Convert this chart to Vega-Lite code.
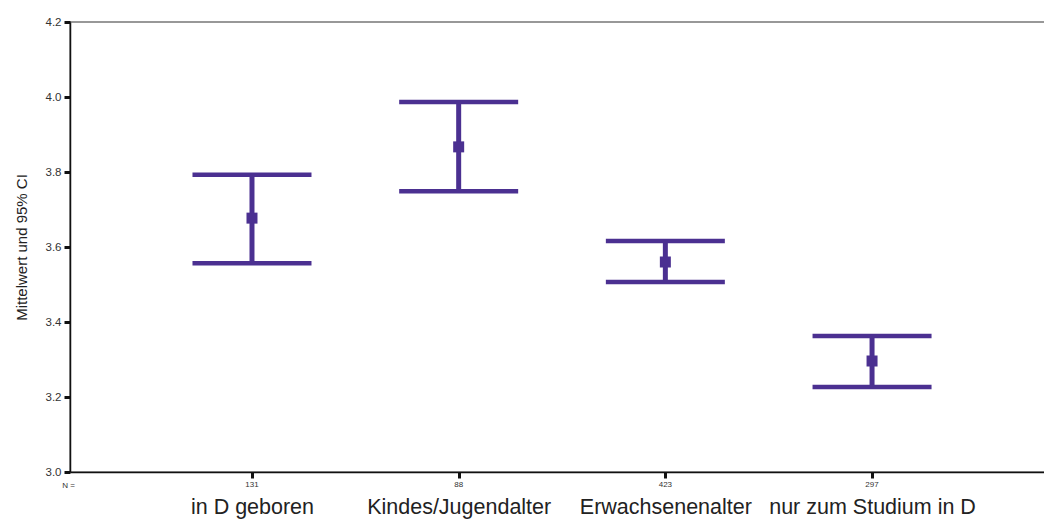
{
  "$schema": "https://vega.github.io/schema/vega-lite/v6.json",
  "autosize": {"type": "none"},
  "width": 980,
  "height": 450,
  "padding": {"left": 70, "top": 22, "right": 0, "bottom": 50},
  "background": "white",
  "config": {
    "font": "Liberation Sans",
    "view": {"stroke": "#777777", "strokeWidth": 1.5},
    "axis": {"grid": false}
  },
  "data": {
    "values": [
      {"pos": 1, "group": "in D geboren", "n": "131", "mean": 3.677, "lo": 3.557, "hi": 3.793},
      {"pos": 2, "group": "Kindes/Jugendalter", "n": "88", "mean": 3.867, "lo": 3.749, "hi": 3.987},
      {"pos": 3, "group": "Erwachsenenalter", "n": "423", "mean": 3.560, "lo": 3.507, "hi": 3.616},
      {"pos": 4, "group": "nur zum Studium in D", "n": "297", "mean": 3.296, "lo": 3.227, "hi": 3.363}
    ]
  },
  "encoding": {
    "x": {
      "field": "pos",
      "type": "quantitative",
      "scale": {"domain": [0.1195, 4.861], "nice": false, "zero": false},
      "axis": {
        "values": [1, 2, 3, 4],
        "labelExpr": "datum.value == 1 ? 'in D geboren' : datum.value == 2 ? 'Kindes/Jugendalter' : datum.value == 3 ? 'Erwachsenenalter' : 'nur zum Studium in D'",
        "labelFontSize": 21.5,
        "labelColor": "#222222",
        "labelBaseline": "top",
        "labelPadding": 18,
        "labelOverlap": false,
        "labelFlush": false,
        "labelLimit": 0,
        "tickSize": 6,
        "tickWidth": 3,
        "tickColor": "#111111",
        "domainColor": "#111111",
        "domainWidth": 1.5,
        "title": "N =",
        "titleFontSize": 8,
        "titleFontWeight": "normal",
        "titleColor": "#333333",
        "titleX": -2,
        "titleY": 13,
        "titleAlign": "center",
        "titleBaseline": "middle",
        "titleAnchor": null
      }
    }
  },
  "layer": [
    {
      "mark": {"type": "rule", "color": "#4b3091", "strokeWidth": 5},
      "encoding": {
        "y": {
          "field": "lo",
          "type": "quantitative",
          "scale": {"domain": [3.0, 4.2], "nice": false, "zero": false},
          "axis": {
            "values": [3.0, 3.2, 3.4, 3.6, 3.8, 4.0, 4.2],
            "format": ".1f",
            "labelFontSize": 11.5,
            "labelColor": "#333333",
            "labelPadding": 3,
            "tickSize": 6,
            "tickWidth": 3,
            "tickColor": "#111111",
            "domainColor": "#111111",
            "domainWidth": 1.5,
            "title": "Mittelwert und 95% CI",
            "titleFontSize": 15,
            "titleFontWeight": "normal",
            "titleColor": "#222222",
            "titlePadding": 16
          }
        },
        "y2": {"field": "hi"}
      }
    },
    {
      "mark": {"type": "tick", "orient": "horizontal", "color": "#4b3091", "size": 119, "thickness": 4.5, "opacity": 1},
      "encoding": {"y": {"field": "lo", "type": "quantitative"}}
    },
    {
      "mark": {"type": "tick", "orient": "horizontal", "color": "#4b3091", "size": 119, "thickness": 4.5, "opacity": 1},
      "encoding": {"y": {"field": "hi", "type": "quantitative"}}
    },
    {
      "mark": {"type": "point", "shape": "square", "filled": true, "size": 121, "color": "#4b3091", "opacity": 1},
      "encoding": {"y": {"field": "mean", "type": "quantitative"}}
    },
    {
      "mark": {"type": "text", "fontSize": 8, "color": "#333333", "baseline": "middle", "dy": 13},
      "encoding": {
        "y": {"datum": 3.0},
        "text": {"field": "n"}
      }
    }
  ]
}
